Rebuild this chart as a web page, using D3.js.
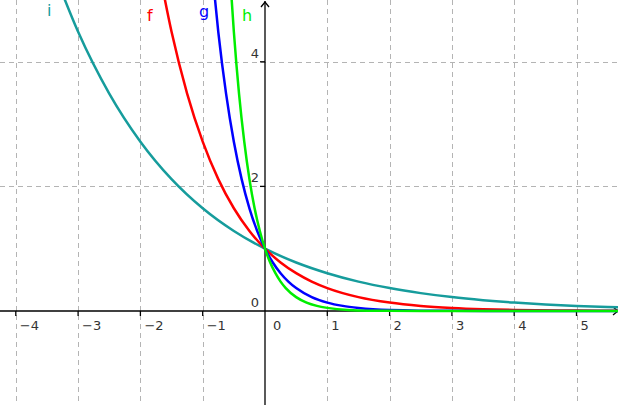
<!DOCTYPE html>
<html>
<head>
<meta charset="utf-8">
<script src="https://cdn.jsdelivr.net/npm/d3@7"></script>
<style>
  html, body { margin: 0; padding: 0; background: #fff; }
  svg { display: block; }
</style>
</head>
<body>
<svg id="chart" width="618" height="405"></svg>
<script>
// ---- Data ----
const xTicks = [-4, -3, -2, -1, 1, 2, 3, 4, 5];
const yTicks = [2, 4];
const xGrid = [-4, -3, -2, -1, 1, 2, 3, 4, 5];
const yGrid = [2, 4];

const seriesNames = ["i", "f", "g", "h"];
const seriesColors = ["#169c9c", "#ff0000", "#0000ff", "#00ee00"];

// i
const iX = [-3.4, -3, -2.5, -2, -1.5, -1, -0.5, 0, 0.5, 1, 1.5, 2, 2.5, 3, 3.5, 4, 4.5, 5, 5.5, 5.8];
const iY = [5.474, 4.482, 3.490, 2.718, 2.117, 1.649, 1.284, 1, 0.779, 0.607, 0.472, 0.368, 0.287, 0.223, 0.174, 0.135, 0.105, 0.082, 0.064, 0.055];
// f
const fX = [-1.7, -1.5, -1.25, -1, -0.75, -0.5, -0.25, 0, 0.25, 0.5, 0.75, 1, 1.5, 2, 2.5, 3, 3.5, 4, 5, 5.8];
const fY = [5.474, 4.482, 3.490, 2.718, 2.117, 1.649, 1.284, 1, 0.779, 0.607, 0.472, 0.368, 0.223, 0.135, 0.082, 0.050, 0.030, 0.018, 0.007, 0.003];
// g
const gX = [-0.85, -0.75, -0.625, -0.5, -0.375, -0.25, -0.125, 0, 0.125, 0.25, 0.375, 0.5, 0.75, 1, 1.25, 1.5, 2, 3, 4, 5.8];
const gY = [5.474, 4.482, 3.490, 2.718, 2.117, 1.649, 1.284, 1, 0.779, 0.607, 0.472, 0.368, 0.223, 0.135, 0.082, 0.050, 0.018, 0.0025, 0.0003, 0];
// h
const hX = [-0.567, -0.5, -0.417, -0.333, -0.25, -0.167, -0.083, 0, 0.083, 0.167, 0.25, 0.333, 0.5, 0.667, 0.833, 1, 1.333, 2, 3, 5.8];
const hY = [5.474, 4.482, 3.490, 2.718, 2.117, 1.649, 1.284, 1, 0.779, 0.607, 0.472, 0.368, 0.223, 0.135, 0.082, 0.050, 0.018, 0.0025, 0.0001, 0];

const seriesX = [iX, fX, gX, hX];
const seriesY = [iY, fY, gY, hY];

// ---- Layout ----
const W = 618, H = 405;
const unit = 62.3;
const originX = 265, originY = 311;
const x = d3.scaleLinear().domain([-originX / unit, (W - originX) / unit]).range([0, W]);
const y = d3.scaleLinear().domain([-(H - originY) / unit, originY / unit]).range([H, 0]);

const svg = d3.select("#chart");
svg.append("rect").attr("width", W).attr("height", H).attr("fill", "#fff");
svg.append("defs").append("clipPath").attr("id", "clip")
  .append("rect").attr("width", W).attr("height", H);

// grid
const grid = svg.append("g").attr("stroke", "#b4b4b4").attr("stroke-width", 1).attr("stroke-dasharray", "5,4");
grid.selectAll("line.v").data(xGrid).join("line")
  .attr("x1", d => Math.round(x(d)) + 0.5).attr("x2", d => Math.round(x(d)) + 0.5)
  .attr("y1", 0).attr("y2", H);
grid.selectAll("line.h").data(yGrid).join("line")
  .attr("y1", d => Math.round(y(d)) + 0.5).attr("y2", d => Math.round(y(d)) + 0.5)
  .attr("x1", 0).attr("x2", W);

// axes
const ax = svg.append("g").attr("stroke", "#000").attr("stroke-width", 1.3).attr("fill", "none");
const x0 = x(0), y0 = y(0);
ax.append("line").attr("x1", 0).attr("x2", W).attr("y1", y0).attr("y2", y0);
ax.append("line").attr("x1", x0).attr("x2", x0).attr("y1", 1).attr("y2", H);
// arrows
ax.append("path").attr("d", `M${x0 - 4},${7} L${x0},${2} L${x0 + 4},${7}`);
ax.append("path").attr("d", `M${W - 5},${y0 - 4} L${W},${y0} L${W - 5},${y0 + 4}`);
// ticks
ax.selectAll("line.xt").data(xTicks).join("line")
  .attr("x1", d => x(d)).attr("x2", d => x(d)).attr("y1", y0).attr("y2", y0 + 5);
ax.selectAll("line.yt").data(yTicks).join("line")
  .attr("y1", d => y(d)).attr("y2", d => y(d)).attr("x1", x0 - 5).attr("x2", x0);

// tick labels
const fmt = d => (d < 0 ? "\u2212" + Math.abs(d) : String(d));
const lbl = svg.append("g").attr("font-family", "DejaVu Sans, sans-serif").attr("font-size", 13).attr("fill", "#333");
lbl.selectAll("text.xl").data(xTicks.concat([0])).join("text")
  .attr("x", d => x(d) + (d === 0 ? 8 : 4)).attr("y", y0 + 19).text(fmt);
lbl.selectAll("text.yl").data(yTicks.concat([0])).join("text")
  .attr("text-anchor", "end")
  .attr("x", x0 - 6).attr("y", d => y(d) - 4).text(fmt);

// curves
const line = d3.line().x(d => x(d[0])).y(d => y(d[1])).curve(d3.curveMonotoneX);
const curves = svg.append("g").attr("clip-path", "url(#clip)");
seriesNames.forEach((name, k) => {
  const pts = seriesX[k].map((xv, j) => [xv, seriesY[k][j]]);
  curves.append("path").datum(pts)
    .attr("d", line).attr("fill", "none")
    .attr("stroke", seriesColors[k]).attr("stroke-width", 2.5);
});

// function labels
const labelPos = [[47, 16], [147, 21], [199, 17], [242, 21]];
svg.append("g").attr("font-family", "DejaVu Sans, sans-serif").attr("font-size", 16)
  .selectAll("text").data(seriesNames).join("text")
  .attr("x", (d, k) => labelPos[k][0]).attr("y", (d, k) => labelPos[k][1])
  .attr("fill", (d, k) => seriesColors[k]).text(d => d);
</script>
</body>
</html>
